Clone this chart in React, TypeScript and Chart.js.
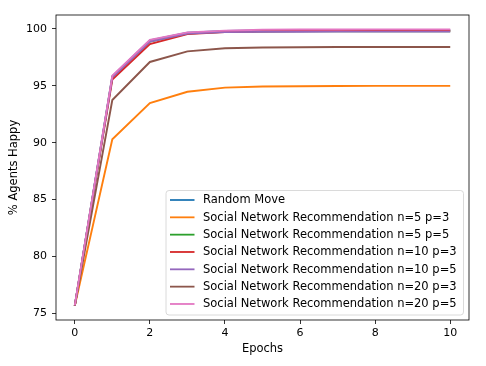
import React, { useEffect, useRef } from "react";
import { Chart, registerables } from "chart.js";

Chart.register(...registerables);

const epochs = [0, 1, 2, 3, 4, 5, 6, 7, 8, 9, 10];
const randomMove = [75.65, 95.85, 99.0, 99.68, 99.82, 99.88, 99.9, 99.9, 99.9, 99.9, 99.9];
const snr5p3 = [75.65, 90.3, 93.48, 94.48, 94.84, 94.94, 94.97, 94.99, 95.0, 95.0, 95.0];
const snr5p5 = [75.65, 95.75, 98.9, 99.6, 99.75, 99.78, 99.8, 99.8, 99.8, 99.8, 99.8];
const snr10p3 = [75.65, 95.55, 98.68, 99.55, 99.74, 99.8, 99.82, 99.84, 99.85, 99.85, 99.85];
const snr10p5 = [75.65, 95.75, 98.9, 99.6, 99.72, 99.75, 99.76, 99.77, 99.77, 99.77, 99.77];
const snr20p3 = [75.65, 93.75, 97.1, 98.03, 98.3, 98.37, 98.4, 98.41, 98.42, 98.42, 98.42];
const snr20p5 = [75.7, 95.9, 99.05, 99.7, 99.86, 99.93, 99.95, 99.96, 99.97, 99.97, 99.97];

const seriesLabels = [
  "Random Move",
  "Social Network Recommendation n=5 p=3",
  "Social Network Recommendation n=5 p=5",
  "Social Network Recommendation n=10 p=3",
  "Social Network Recommendation n=10 p=5",
  "Social Network Recommendation n=20 p=3",
  "Social Network Recommendation n=20 p=5",
];
const seriesValues = [randomMove, snr5p3, snr5p5, snr10p3, snr10p5, snr20p3, snr20p5];
const seriesColors = ["#1f77b4", "#ff7f0e", "#2ca02c", "#d62728", "#9467bd", "#8c564b", "#e377c2"];

const xTicks = [0, 2, 4, 6, 8, 10];
const yTicks = [75, 80, 85, 90, 95, 100];

const FONT = "'DejaVu Sans', sans-serif";

const frameAndLegend = {
  id: "frameAndLegend",
  afterDatasetsDraw(chart: any) {
    const { ctx, chartArea } = chart;
    ctx.save();
    ctx.strokeStyle = "#000";
    ctx.lineWidth = 0.8;
    ctx.strokeRect(chartArea.left, chartArea.top, chartArea.right - chartArea.left, chartArea.bottom - chartArea.top);
    const x0 = 166, y0 = 190.5, w = 297.5, h = 124.5, r = 3;
    ctx.globalAlpha = 0.8;
    ctx.fillStyle = "#fff";
    ctx.beginPath();
    ctx.roundRect(x0, y0, w, h, r);
    ctx.fill();
    ctx.globalAlpha = 1;
    ctx.strokeStyle = "#d0d0d0";
    ctx.lineWidth = 0.8;
    ctx.stroke();
    ctx.font = `11.5px ${FONT}`;
    ctx.textBaseline = "middle";
    ctx.textAlign = "left";
    chart.data.datasets.forEach((ds: any, i: number) => {
      const cy = 200 + i * 17.33;
      ctx.strokeStyle = ds.borderColor;
      ctx.lineWidth = 1.8;
      ctx.beginPath();
      ctx.moveTo(170, cy);
      ctx.lineTo(194.5, cy);
      ctx.stroke();
      ctx.fillStyle = "#000";
      ctx.fillText(ds.label, 203, cy + 0.5);
    });
    ctx.restore();
  },
};

export default function App() {
  const ref = useRef<HTMLCanvasElement>(null);
  useEffect(() => {
    const chart = new Chart(ref.current!, {
      type: "line",
      data: {
        labels: epochs,
        datasets: seriesLabels.map((label, i) => ({
          label,
          data: epochs.map((e, j) => ({ x: e, y: seriesValues[i][j] })),
          borderColor: seriesColors[i],
          backgroundColor: seriesColors[i],
          borderWidth: 1.9,
          pointRadius: 0,
          tension: 0,
          fill: false,
          order: seriesLabels.length - i,
        })),
      },
      options: {
        animation: false,
        responsive: false,
        devicePixelRatio: 1,
        layout: { padding: { top: 15, right: 17, left: 0, bottom: 0 } },
        plugins: { legend: { display: false }, tooltip: { enabled: false } },
        scales: {
          x: {
            type: "linear",
            min: -0.5,
            max: 10.5,
            afterBuildTicks: (axis: any) => {
              axis.ticks = xTicks.map((v) => ({ value: v }));
            },
            afterFit: (axis: any) => {
              axis.height = 46;
            },
            grid: { drawOnChartArea: false, drawTicks: true, tickLength: 4, color: "#000", tickWidth: 0.8 },
            border: { display: false },
            ticks: { color: "#000", font: { family: FONT, size: 11 }, padding: 3, maxRotation: 0 },
            title: { display: true, text: "Epochs", color: "#000", font: { family: FONT, size: 11.5 }, padding: { top: 0, bottom: 10 } },
          },
          y: {
            type: "linear",
            min: 74.41,
            max: 101.23,
            afterBuildTicks: (axis: any) => {
              axis.ticks = yTicks.map((v) => ({ value: v }));
            },
            afterFit: (axis: any) => {
              axis.width = 56;
            },
            grid: { drawOnChartArea: false, drawTicks: true, tickLength: 4, color: "#000", tickWidth: 0.8 },
            border: { display: false },
            ticks: { color: "#000", font: { family: FONT, size: 11 }, padding: 5 },
            title: { display: true, text: "% Agents Happy", color: "#000", font: { family: FONT, size: 11.5 }, padding: { top: 7, bottom: 0 } },
          },
        },
      },
      plugins: [frameAndLegend],
    });
    return () => chart.destroy();
  }, []);
  return (
    <div style={{ position: "absolute", left: 0, top: 0, width: 486, height: 366, background: "#fff" }}>
      <canvas ref={ref} width={486} height={366} style={{ display: "block", width: 486, height: 366 }} />
    </div>
  );
}
